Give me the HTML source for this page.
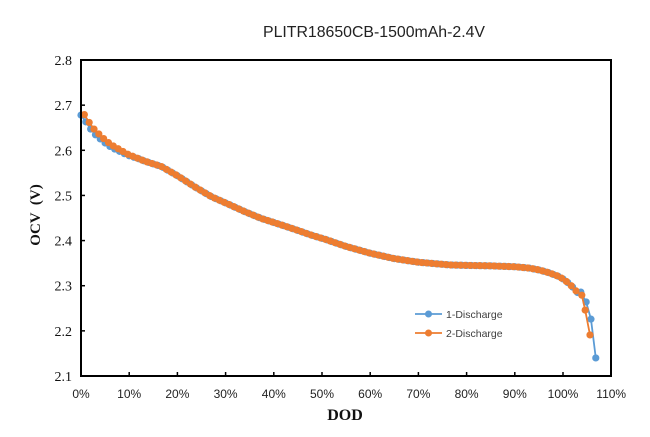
<!DOCTYPE html>
<html><head><meta charset="utf-8"><style>
html,body{margin:0;padding:0;background:#fff;}
svg{display:block;}
</style></head><body>
<svg id="c" width="650" height="437" viewBox="0 0 650 437" xmlns="http://www.w3.org/2000/svg">
<rect width="650" height="437" fill="#fff"/>
<text x="263" y="37" font-family="Liberation Sans, sans-serif" font-size="16" fill="#222" textLength="222" lengthAdjust="spacingAndGlyphs">PLITR18650CB-1500mAh-2.4V</text>
<g id="series"></g>
<rect x="81" y="60" width="530" height="316" fill="none" stroke="#000" stroke-width="2"/>
<g id="ticks" stroke="#000" stroke-width="1.5"></g>
<g font-family="Liberation Serif, serif" font-size="14" fill="#111" text-anchor="end" id="ylab"></g>
<g font-family="Liberation Sans, sans-serif" font-size="12" fill="#222" text-anchor="middle" id="xlab"></g>
<text transform="translate(40,215) rotate(-90)" font-family="Liberation Serif, serif" font-weight="bold" font-size="15" fill="#111" text-anchor="middle" xml:space="preserve">OCV  (V)</text>
<text x="345" y="420" font-family="Liberation Serif, serif" font-weight="bold" font-size="16" fill="#111" text-anchor="middle">DOD</text>
<g id="legend">
<line x1="415" y1="314" x2="442" y2="314" stroke="#5B9BD5" stroke-width="1.8"/>
<circle cx="428.5" cy="314" r="3.5" fill="#5B9BD5"/>
<text x="446" y="318" font-family="Liberation Sans, sans-serif" font-size="10.5" fill="#404040">1-Discharge</text>
<line x1="415" y1="333" x2="442" y2="333" stroke="#ED7D31" stroke-width="1.8"/>
<circle cx="428.5" cy="333" r="3.5" fill="#ED7D31"/>
<text x="446" y="337" font-family="Liberation Sans, sans-serif" font-size="10.5" fill="#404040">2-Discharge</text>
</g>
</svg>
<script>
(function(){
var NS="http://www.w3.org/2000/svg";
function X(d){return 81+d*4.82;}
function Y(v){return 376-(v-2.1)*451.4;}
var ticks=document.getElementById('ticks');
var yl=document.getElementById('ylab');
var xl=document.getElementById('xlab');
for(var i=0;i<=7;i++){
  var v=2.1+i*0.1, y=Y(v);
  if(i>0&&i<7){var l=document.createElementNS(NS,'line');l.setAttribute('x1',81);l.setAttribute('x2',85);l.setAttribute('y1',y);l.setAttribute('y2',y);ticks.appendChild(l);}
  var t=document.createElementNS(NS,'text');t.setAttribute('x',72);t.setAttribute('y',y+5);t.textContent=v.toFixed(1);yl.appendChild(t);
}
for(var j=0;j<=11;j++){
  var x=X(j*10);
  if(j>0&&j<11){var l2=document.createElementNS(NS,'line');l2.setAttribute('x1',x);l2.setAttribute('x2',x);l2.setAttribute('y1',376);l2.setAttribute('y2',372);ticks.appendChild(l2);}
  var t2=document.createElementNS(NS,'text');t2.setAttribute('x',x);t2.setAttribute('y',398);t2.textContent=(j*10)+'%';xl.appendChild(t2);
}
var cp=[[0,2.690],[0.77,2.678],[1.8,2.660],[2.84,2.645],[4.9,2.624],[6.3,2.612],[9.75,2.591],[13.2,2.576],[16.7,2.564],[20.1,2.543],[23.6,2.519],[27.1,2.497],[30.5,2.481],[34,2.464],[37.4,2.449],[40.9,2.437],[44.3,2.425],[47.8,2.412],[50.6,2.403],[55,2.387],[60,2.372],[65,2.360],[70,2.352],[76.5,2.346],[80,2.345],[85,2.344],[90,2.342],[93,2.339],[95,2.335],[97,2.329],[99,2.321],[100,2.315],[101,2.307],[102,2.297],[103,2.285]];
function f(d){
  if(d<=cp[0][0])return cp[0][1];
  for(var k=1;k<cp.length;k++){if(d<=cp[k][0]){var a=cp[k-1],b=cp[k];return a[1]+(b[1]-a[1])*(d-a[0])/(b[0]-a[0]);}}
  return cp[cp.length-1][1];
}
var blue=[],orange=[];
for(var k=0;k<=103;k++){var d=k;blue.push([d,f(d)-0.012*Math.max(0,1-d/12)]);}
blue.push([103.7,2.286],[104.8,2.264],[105.8,2.226],[106.8,2.14]);
for(var k2=0;k2<=102;k2++){var d2=0.7+k2;orange.push([d2,f(d2)]);}
orange.push([103.9,2.279],[104.6,2.246],[105.6,2.191]);
var g=document.getElementById('series');
function draw(pts,col){
  var p=pts.map(function(q){return X(q[0]).toFixed(2)+','+Y(q[1]).toFixed(2);}).join(' ');
  var pl=document.createElementNS(NS,'polyline');pl.setAttribute('points',p);pl.setAttribute('fill','none');pl.setAttribute('stroke',col);pl.setAttribute('stroke-width','1.8');g.appendChild(pl);
  pts.forEach(function(q){var c=document.createElementNS(NS,'circle');c.setAttribute('cx',X(q[0]).toFixed(2));c.setAttribute('cy',Y(q[1]).toFixed(2));c.setAttribute('r','3.6');c.setAttribute('fill',col);g.appendChild(c);});
}
draw(blue,'#5B9BD5');
draw(orange,'#ED7D31');
})();
</script>
</body></html>
